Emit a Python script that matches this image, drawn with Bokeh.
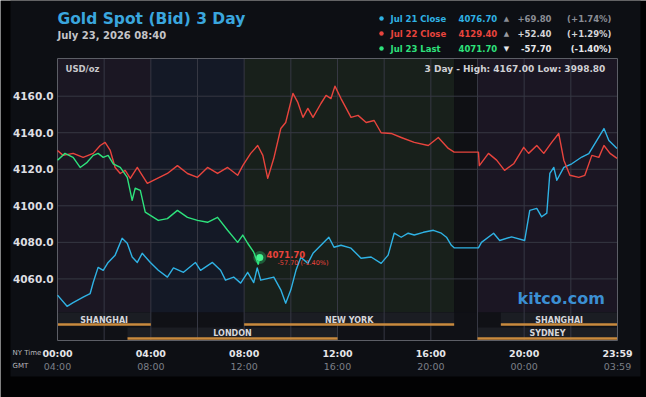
from bokeh.plotting import figure
from bokeh.models import Range1d
from bokeh.core.properties import value
from bokeh.embed import file_html
from bokeh.resources import INLINE

# ---------------- data ----------------
jul21_t = [0.0, 0.41, 0.67, 1.10, 1.40, 1.53, 1.74, 1.96, 2.17, 2.47, 2.77, 2.99, 3.20, 3.42, 3.63, 3.98,
           4.32, 4.71, 4.97, 5.40, 5.91, 6.13, 6.64, 6.99, 7.20, 7.55, 7.85, 8.15, 8.41, 8.56, 8.71, 9.27,
           9.57, 9.78, 10.0, 10.22, 10.43, 10.73, 10.95, 11.29, 11.63, 11.85, 12.15, 12.58, 13.01, 13.44,
           13.87, 14.17, 14.43, 14.73, 15.03, 15.29, 15.68, 16.11, 16.45, 16.67, 16.88, 17.0, 18.04, 18.17,
           18.69, 18.95, 19.46, 20.02, 20.24, 20.54, 20.75, 20.97, 21.10, 21.27, 21.40, 21.70, 22.04, 22.47,
           22.77, 23.03, 23.42, 23.63, 23.98]
jul21_v = [4051.1, 4045.0, 4047.0, 4050.0, 4052.0, 4058.0, 4066.3, 4064.7, 4069.0, 4073.0, 4082.2, 4079.5,
           4072.0, 4069.0, 4074.0, 4069.0, 4064.7, 4061.0, 4066.0, 4063.6, 4069.0, 4064.7, 4069.0, 4064.7,
           4059.3, 4061.0, 4057.7, 4063.6, 4058.0, 4066.0, 4059.3, 4061.0, 4054.0, 4046.7, 4054.0, 4064.7,
           4071.8, 4068.5, 4074.0, 4078.4, 4082.8, 4077.3, 4078.4, 4076.8, 4071.3, 4072.0, 4068.5, 4073.0,
           4085.0, 4082.8, 4085.0, 4084.0, 4085.5, 4086.6, 4085.0, 4082.8, 4078.4, 4077.0, 4077.0, 4080.0,
           4085.0, 4081.0, 4083.0, 4081.0, 4097.5, 4098.6, 4094.0, 4096.0, 4117.7, 4121.0, 4114.0, 4121.0,
           4123.0, 4126.7, 4128.6, 4134.0, 4142.3, 4135.8, 4131.4]

jul22_t = [0.0, 0.24, 0.67, 1.10, 1.53, 1.83, 2.04, 2.26, 2.47, 2.69, 2.90, 3.12, 3.42, 3.55, 3.85, 4.28,
           4.71, 5.14, 5.57, 6.00, 6.43, 6.86, 7.29, 7.72, 7.94, 8.28, 8.58, 8.80, 9.01, 9.27, 9.57, 9.78,
           10.09, 10.30, 10.52, 10.73, 10.95, 11.29, 11.51, 11.72, 11.89, 12.15, 12.58, 12.88, 13.23, 13.57,
           13.87, 14.30, 14.73, 15.29, 15.89, 16.32, 16.75, 17.0, 18.04, 18.08, 18.47, 18.82, 19.16, 19.55,
           19.98, 20.19, 20.54, 20.84, 21.18, 21.48, 21.70, 21.96, 22.34, 22.60, 22.90, 23.20, 23.42, 23.68,
           23.98]
jul22_v = [4130.3, 4127.6, 4128.7, 4126.5, 4128.7, 4133.0, 4134.7, 4130.3, 4121.0, 4117.7, 4119.4, 4115.0,
           4121.0, 4118.3, 4112.3, 4115.0, 4117.7, 4122.0, 4117.7, 4115.6, 4121.0, 4117.7, 4121.0, 4116.7,
           4122.0, 4128.7, 4133.0, 4127.6, 4115.0, 4126.0, 4142.3, 4145.6, 4161.5, 4156.6, 4148.4, 4153.3,
           4148.4, 4156.0, 4160.4, 4158.7, 4165.5, 4158.7, 4148.4, 4149.5, 4145.6, 4146.7, 4140.0, 4139.6,
           4137.4, 4134.7, 4133.0, 4137.4, 4131.4, 4129.4, 4129.4, 4122.0, 4128.7, 4125.0, 4119.4, 4123.0,
           4132.0, 4128.7, 4133.0, 4128.7, 4134.7, 4139.6, 4125.0, 4116.7, 4115.6, 4116.7, 4127.6, 4126.5,
           4133.0, 4128.7, 4126.0]

jul23_t = [0.0, 0.32, 0.67, 0.97, 1.27, 1.53, 1.74, 1.96, 2.17, 2.39, 2.69, 2.99, 3.20, 3.33, 3.55, 3.76,
           3.98, 4.32, 4.71, 5.14, 5.57, 6.00, 6.43, 6.86, 7.29, 7.72, 7.94, 8.15, 8.41, 8.60, 8.67]
jul23_v = [4124.9, 4128.7, 4126.5, 4121.0, 4123.8, 4127.6, 4128.7, 4126.5, 4127.6, 4123.0, 4121.0, 4115.6,
           4103.0, 4109.6, 4108.5, 4096.5, 4094.8, 4092.0, 4093.0, 4097.5, 4093.7, 4092.0, 4091.0, 4093.7,
           4086.6, 4080.0, 4084.0, 4079.5, 4074.6, 4068.0, 4071.7]

last_time = 8.67
last_value = 4071.70
last_change = "-57.70 (-1.40%)"

y_ticks = [4060, 4080, 4100, 4120, 4140, 4160]
x_ticks = [0, 4, 8, 12, 16, 20, 24]
ny_labels = ["00:00", "04:00", "08:00", "12:00", "16:00", "20:00", "23:59"]
gmt_labels = ["04:00", "08:00", "12:00", "16:00", "20:00", "00:00", "03:59"]

legend_names = ["Jul 21 Close", "Jul 22 Close", "Jul 23 Last"]
legend_values = ["4076.70", "4129.40", "4071.70"]
legend_arrows = ["\u25B2", "\u25B2", "\u25BC"]
legend_changes = ["+69.80", "+52.40", "-57.70"]
legend_pcts = ["(+1.74%)", "(+1.29%)", "(-1.40%)"]

session_names = ["SHANGHAI", "NEW YORK", "SHANGHAI", "LONDON", "SYDNEY"]
session_start = [0, 8, 19, 3, 18]
session_end = [4, 17, 24, 12, 24]
session_lane = [1, 1, 1, 2, 2]

band_start = [0, 4, 8, 17, 18]
band_end = [4, 8, 17, 18, 24]

title_text = "Gold Spot (Bid) 3 Day"
date_text = "July 23, 2026 08:40"
unit_text = "USD/oz"
high_low = "3 Day - High: 4167.00  Low: 3998.80"
brand = "kitco.com"

# ---------------- layout helpers (page pixels -> data) ----------------
W, H = 646, 397
FL, FR, FT, FB = 57, 617, 58, 340          # plot box on the page
Y_TOP, Y_BOT = 4180.63, 4026.28            # values at plot box top / bottom

def X(px):
    return (px - FL) / (FR - FL) * 24.0

def Y(py):
    return Y_TOP - (py - FT) / (FB - FT) * (Y_TOP - Y_BOT)

FONT = "DejaVu Sans"
BLUE, RED, GREEN = "#2fb2e4", "#e8443d", "#2ee27c"
band_colors = ["#1b1723", "#141926", "#18201b", "#0f1014", "#1b1623"]
GRID = "#363843"

p = figure(width=W, height=H, x_range=Range1d(X(0), X(W)), y_range=Range1d(Y(H), Y(0)),
           output_backend="svg", toolbar_location=None, x_axis_location=None, y_axis_location=None,
           min_border=0, min_border_left=0, min_border_right=0, min_border_top=0, min_border_bottom=0)
p.grid.visible = False
p.outline_line_color = None
p.background_fill_color = "#020203"
p.border_fill_color = "#020203"

def box(l, r, b, t, color, **kw):
    p.quad(left=l, right=r, bottom=b, top=t, fill_color=color, line_color=None, **kw)

# card
box([X(10)], [X(640)], [Y(376)], [Y(0)], "#0d0f14")
# plot area
price_floor = Y(312)
lane_split = Y(327)
box(band_start, band_end, [price_floor] * len(band_start), [Y_TOP] * len(band_start), band_colors)
box([0], [24], [Y_BOT], [price_floor], "#101116")

# session lanes
lane_top = [price_floor if l == 1 else lane_split for l in session_lane]
lane_line = [Y(324) if l == 1 else Y(338) for l in session_lane]
lane_text = [Y(320) if l == 1 else Y(333) for l in session_lane]
box(session_start, session_end, lane_line, lane_top, "#1b1d23")

# grid
v_hours = list(range(2, 24, 2))
p.segment(x0=v_hours, x1=v_hours, y0=[Y_BOT] * len(v_hours), y1=[Y_TOP] * len(v_hours),
          line_color=GRID, line_width=1)
p.segment(x0=[0] * len(y_ticks), x1=[24] * len(y_ticks), y0=y_ticks, y1=y_ticks,
          line_color=GRID, line_width=1)

p.segment(x0=session_start, x1=session_end, y0=lane_line, y1=lane_line, line_color="#c98a3e",
          line_width=2.5)

def txt(xs, ys, texts, size, color, style="bold", align="left", baseline="middle"):
    p.text(x=xs, y=ys, text=texts, text_font=value(FONT), text_font_size=size,
           text_font_style=style, text_color=color, text_align=align, text_baseline=baseline)

txt([(a + b) / 2 for a, b in zip(session_start, session_end)], lane_text, session_names,
    "8px", "#d6d6da", align="center")

# frame border
p.quad(left=[0], right=[24], bottom=[Y_BOT], top=[Y_TOP], fill_color=None,
       line_color="#5c5e66", line_width=1)

# series
p.line(jul21_t, jul21_v, line_color=BLUE, line_width=1.4, line_join="round")
p.line(jul22_t, jul22_v, line_color=RED, line_width=1.4, line_join="round")
p.line(jul23_t, jul23_v, line_color=GREEN, line_width=1.4, line_join="round")
p.scatter([last_time], [last_value], size=13, fill_color=GREEN, fill_alpha=0.3, line_color=None)
p.scatter([last_time], [last_value], size=7, fill_color="#45f590", line_color=None)

# axis labels
txt([X(53)] * len(y_ticks), y_ticks, ["%.1f" % v for v in y_ticks], "10.5px", "#dedee2", align="right")
txt(x_ticks, [Y(353)] * len(x_ticks), ny_labels, "9.5px", "#e6e6ea", align="center")
txt(x_ticks, [Y(366)] * len(x_ticks), gmt_labels, "9.5px", "#7c7f88", style="normal", align="center")
txt([X(12)], [Y(352)], ["NY Time"], "7px", "#b8b8bc", style="normal")
txt([X(12)], [Y(365)], ["GMT"], "7px", "#b8b8bc", style="normal")

# header
txt([X(57)], [Y(18)], [title_text], "15.5px", "#3aa6de")
txt([X(57)], [Y(35)], [date_text], "10px", "#c4c4c8")
row_y = [Y(18), Y(33), Y(48)]
name_cols = [BLUE, RED, GREEN]
chg_cols = ["#8a8d95", "#d4d4d8", "#e8e8ec"]
arr_cols = ["#8a8d95", "#9a9ca2", "#e8e8ec"]
p.scatter([X(381)] * 3, row_y, size=4.5, fill_color=name_cols, line_color=None)
txt([X(390)] * 3, row_y, legend_names, "8.5px", name_cols)
txt([X(458)] * 3, row_y, legend_values, "8.5px", name_cols)
txt([X(506)] * 3, row_y, legend_arrows, "7px", arr_cols, style="normal", align="center")
txt([X(551)] * 3, row_y, legend_changes, "8.5px", chg_cols, align="right")
txt([X(611)] * 3, row_y, legend_pcts, "8.5px", chg_cols, align="right")

# frame texts
txt([X(65)], [Y(68)], [unit_text], "8.5px", "#c8c8cc")
txt([X(608)], [Y(68)], [high_low], "9px", "#d0d0d4", align="right")
txt([X(517)], [Y(298)], [brand], "16px", "#3b8fd3")
txt([X(266)], [Y(254)], ["%.2f" % last_value], "8.5px", RED)
txt([X(277)], [Y(262.5)], [last_change], "6.5px", RED, style="normal")

open("out.html", "w").write(file_html(p, INLINE))
